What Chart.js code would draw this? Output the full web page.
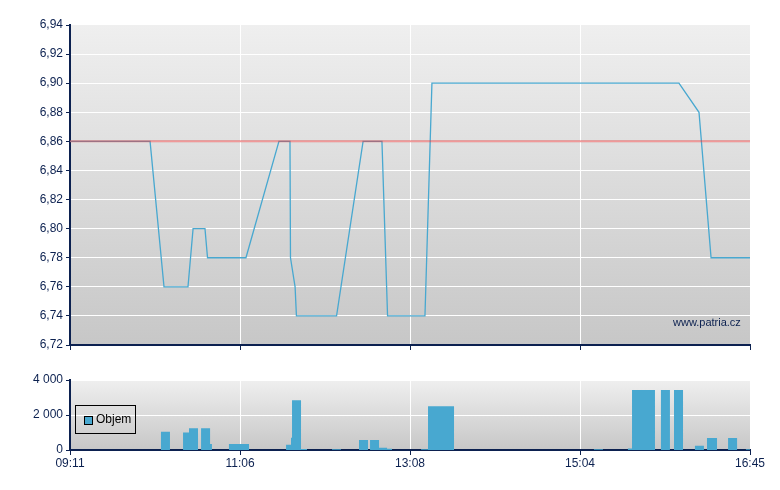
<!DOCTYPE html>
<html>
<head>
<meta charset="utf-8">
<script src="https://cdn.jsdelivr.net/npm/chart.js@4/dist/chart.umd.min.js"></script>
<style>
  body { margin: 0; background: #fff; }
  #wrap { position: relative; width: 780px; height: 490px; font-family: "Liberation Sans", Arial, sans-serif; }
  #priceBox { position: absolute; left: 0; top: 0; width: 780px; height: 360px; }
  #volBox { position: absolute; left: 0; top: 360px; width: 780px; height: 130px; }
  #mark { position: absolute; left: 673px; top: 316px; font-size: 11px; color: #0c2150; }
  #legend { position: absolute; left: 75px; top: 405px; width: 59px; height: 27px; border: 1px solid #000; font-size: 12px; color: #000; }
  #legend span.sw { position: absolute; left: 8px; top: 10px; width: 7px; height: 7px; background: #48a8d0; border: 1px solid #000; }
  #legend span.tx { position: absolute; left: 20px; top: 6px; }
</style>
</head>
<body>
<div id="wrap">
  <div id="priceBox"><canvas id="price"></canvas></div>
  <div id="volBox"><canvas id="vol"></canvas></div>
  <div id="mark">www.patria.cz</div>
  <div id="legend"><span class="sw"></span><span class="tx">Objem</span></div>
</div>
<script>
// time axis labels, one per segment boundary (axis position 0..4)
var timeLabels = ['09:11', '11:06', '13:08', '15:04', '16:45'];

// price line: axis position and price
var priceX = [0, 0.471, 0.553, 0.694, 0.724, 0.794, 0.809, 1.035, 1.229, 1.294, 1.297, 1.324, 1.332,
              1.568, 1.724, 1.835, 1.868, 2.088, 2.129, 3.582, 3.700, 3.771, 4];
var priceY = [6.86, 6.86, 6.76, 6.76, 6.80, 6.80, 6.78, 6.78, 6.86, 6.86, 6.78, 6.76, 6.74,
              6.74, 6.86, 6.86, 6.74, 6.74, 6.90, 6.90, 6.88, 6.78, 6.78];
var prevClose = 6.86;

// volume bars: start / end on axis, and volume
var volStart = [0.535, 0.665, 0.700, 0.771, 0.824, 0.935, 1.271, 1.300, 1.306, 1.359, 1.541, 1.700, 1.765,
                1.818, 1.865, 2.065, 2.106, 3.082, 3.282, 3.306, 3.476, 3.553, 3.676, 3.747, 3.871, 3.976];
var volEnd   = [0.588, 0.700, 0.753, 0.824, 0.835, 1.053, 1.300, 1.306, 1.359, 1.394, 1.594, 1.753, 1.818,
                1.865, 1.894, 2.106, 2.259, 3.135, 3.306, 3.441, 3.529, 3.606, 3.729, 3.806, 3.924, 4.000];
var volValue = [1050, 1000, 1250, 1250, 350, 350, 300, 700, 2850, 60, 50, 570, 570,
                130, 70, 40, 2500, 40, 80, 3430, 3430, 3430, 240, 690, 690, 40];

var navy = '#0c2150';
var blue = '#48a8d0';
var font = { family: '"Liberation Sans", Arial, sans-serif', size: 12 };

// gray gradient behind the plot area
var bgPlugin = {
  id: 'bg',
  beforeDraw: function(chart) {
    var a = chart.chartArea, ctx = chart.ctx;
    var g = ctx.createLinearGradient(0, a.top, 0, a.bottom);
    g.addColorStop(0, '#efefef');
    g.addColorStop(1, '#c7c7c7');
    ctx.save();
    ctx.fillStyle = g;
    ctx.fillRect(a.left, a.top, a.right - a.left, a.bottom - a.top);
    ctx.restore();
  }
};

function innerGrid(ctx) {
  var t = ctx.tick ? ctx.tick.value : 0;
  return (t > 0 && t < 4) ? '#ffffff' : 'rgba(0,0,0,0)';
}

function xScale(showLabels, h) {
  return {
    type: 'linear', min: 0, max: 4,
    afterFit: function(s) { s.height = h; },
    border: { color: navy, width: 2 },
    grid: { color: innerGrid, tickColor: navy, tickLength: 5, lineWidth: 1 },
    ticks: {
      display: showLabels, stepSize: 1, color: navy, font: font, padding: 1, maxRotation: 0,
      callback: function(v) { return timeLabels[v]; }
    }
  };
}

var pricePts = priceX.map(function(x, i) { return { x: x, y: priceY[i] }; });

new Chart(document.getElementById('price'), {
  type: 'line',
  data: {
    datasets: [
      {
        data: [{ x: 0, y: prevClose }, { x: 4, y: prevClose }],
        borderColor: 'rgba(228,70,70,0.55)', borderWidth: 2, pointRadius: 0
      },
      {
        data: pricePts,
        borderColor: blue, borderWidth: 1.3, pointRadius: 0, tension: 0
      }
    ]
  },
  options: {
    responsive: true, maintainAspectRatio: false, animation: false,
    layout: { padding: { left: 0, right: 30, top: 25, bottom: 0 } },
    plugins: { legend: { display: false }, tooltip: { enabled: false } },
    scales: {
      x: xScale(false, 15),
      y: {
        min: 6.72, max: 6.94,
        afterFit: function(s) { s.width = 70; },
        border: { color: navy, width: 2 },
        grid: {
          color: function(c) { return c.tick && c.tick.value > 6.725 && c.tick.value < 6.935 ? '#ffffff' : 'rgba(0,0,0,0)'; },
          tickColor: navy, tickLength: 4
        },
        ticks: {
          stepSize: 0.02, color: navy, font: font, padding: 3,
          callback: function(v) { return v.toFixed(2).replace('.', ','); }
        }
      }
    }
  },
  plugins: [bgPlugin]
});

// each bar becomes an outline: up at start, across, down at end
var volPts = [{ x: 0, y: 0 }];
for (var i = 0; i < volValue.length; i++) {
  volPts.push({ x: volStart[i], y: 0 });
  volPts.push({ x: volStart[i], y: volValue[i] });
  volPts.push({ x: volEnd[i], y: volValue[i] });
  volPts.push({ x: volEnd[i], y: 0 });
}
volPts.push({ x: 4, y: 0 });

new Chart(document.getElementById('vol'), {
  type: 'line',
  data: {
    datasets: [{
      label: 'Objem',
      data: volPts,
      borderWidth: 0, borderColor: 'rgba(0,0,0,0)', backgroundColor: blue,
      fill: 'origin', pointRadius: 0, tension: 0
    }]
  },
  options: {
    responsive: true, maintainAspectRatio: false, animation: false,
    layout: { padding: { left: 0, right: 30, top: 20, bottom: 0 } },
    plugins: { legend: { display: false }, tooltip: { enabled: false } },
    scales: {
      x: xScale(true, 40),
      y: {
        min: 0, max: 4000,
        afterFit: function(s) { s.width = 70; },
        border: { color: navy, width: 2 },
        grid: {
          color: function(c) { return c.tick && c.tick.value > 0 ? '#ffffff' : 'rgba(0,0,0,0)'; },
          tickColor: navy, tickLength: 4
        },
        ticks: {
          stepSize: 2000, color: navy, font: font, padding: 3,
          callback: function(v) { return v === 0 ? '0' : String(v).replace(/\B(?=(\d{3})+(?!\d))/g, ' '); }
        }
      }
    }
  },
  plugins: [bgPlugin]
});
</script>
</body>
</html>
